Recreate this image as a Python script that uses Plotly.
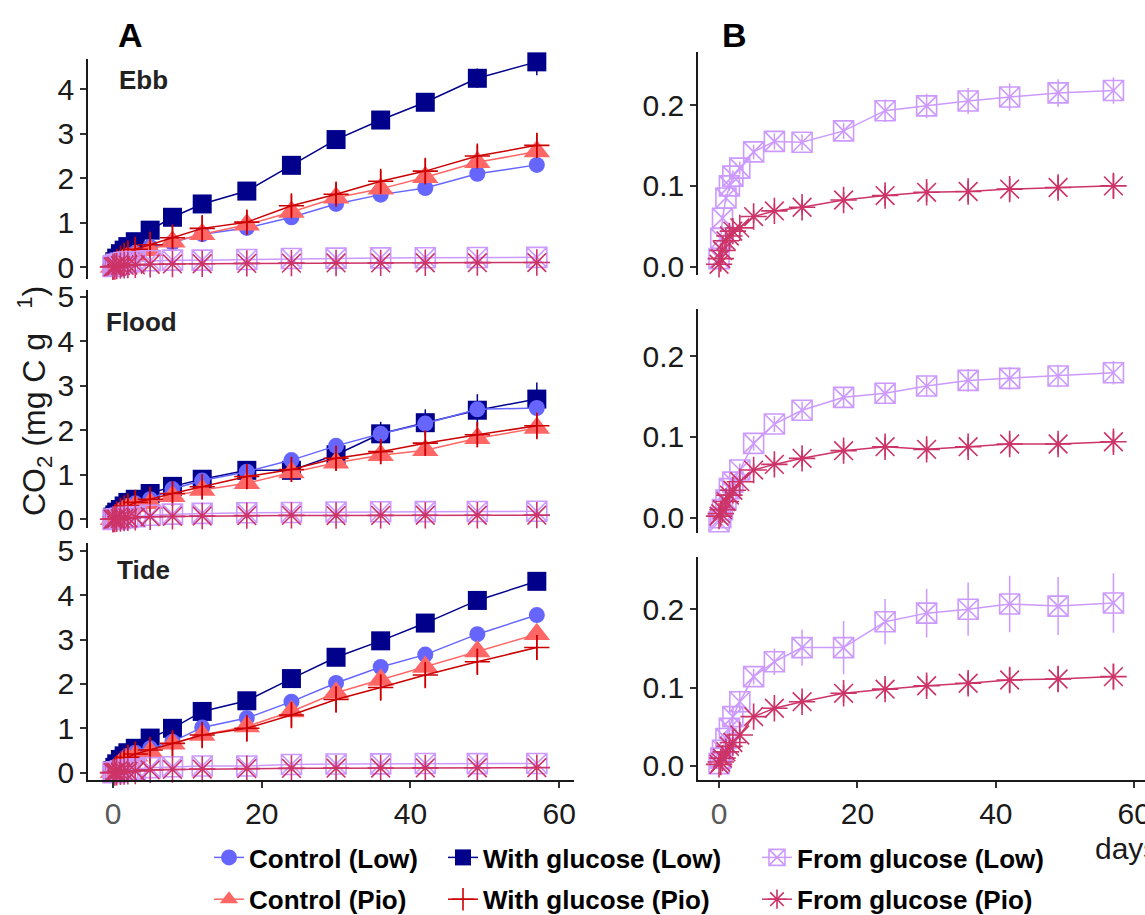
import plotly.graph_objects as go

W, H = 1145, 915

# ---------------- data ----------------
days = [0, 0.25, 0.5, 1, 1.5, 2, 3, 5, 8, 12, 18, 24, 30, 36, 42, 49, 57]

# Ebb
ebb_ctrl_low = [0.02, 0.06, 0.1, 0.16, 0.21, 0.26, 0.32, 0.45, 0.55, 0.74, 0.88, 1.12, 1.42, 1.63, 1.78, 2.1, 2.3]
ebb_ctrl_pio = [0.0, 0.05, 0.09, 0.14, 0.18, 0.22, 0.27, 0.38, 0.57, 0.74, 0.95, 1.24, 1.56, 1.76, 2.02, 2.36, 2.6]
ebb_wg_low = [0.05, 0.12, 0.2, 0.3, 0.38, 0.46, 0.57, 0.83, 1.12, 1.42, 1.71, 2.29, 2.87, 3.31, 3.71, 4.25, 4.62]
ebb_wg_pio = [0.0, 0.06, 0.12, 0.2, 0.26, 0.32, 0.4, 0.5, 0.66, 0.87, 1.01, 1.38, 1.64, 1.93, 2.16, 2.5, 2.74]
ebb_fg_low = [0.01, 0.035, 0.06, 0.085, 0.1, 0.112, 0.122, 0.142, 0.155, 0.154, 0.168, 0.193, 0.199, 0.205, 0.21, 0.215, 0.218]
ebb_fg_pio = [0.003, 0.01, 0.02, 0.032, 0.038, 0.044, 0.048, 0.062, 0.069, 0.0735, 0.0825, 0.088, 0.092, 0.093, 0.096, 0.098, 0.1]

ebb_ctrl_low_se = [0.01, 0.02, 0.02, 0.03, 0.03, 0.03, 0.04, 0.04, 0.05, 0.05, 0.06, 0.06, 0.07, 0.07, 0.08, 0.09, 0.1]
ebb_ctrl_pio_se = [0.01, 0.02, 0.03, 0.04, 0.05, 0.06, 0.07, 0.08, 0.09, 0.1, 0.1, 0.11, 0.11, 0.12, 0.12, 0.13, 0.13]
ebb_wg_low_se = [0.01, 0.02, 0.03, 0.04, 0.05, 0.05, 0.06, 0.07, 0.08, 0.08, 0.09, 0.1, 0.1, 0.1, 0.12, 0.22, 0.3]
ebb_wg_pio_se = [0.05, 0.1, 0.15, 0.2, 0.22, 0.25, 0.27, 0.3, 0.3, 0.3, 0.27, 0.25, 0.25, 0.25, 0.3, 0.25, 0.28]
ebb_fg_low_se = [0.002, 0.003, 0.004, 0.005, 0.006, 0.007, 0.008, 0.009, 0.01, 0.01, 0.01, 0.014, 0.015, 0.016, 0.017, 0.017, 0.0165]
ebb_fg_pio_se = [0.001, 0.002, 0.003, 0.004, 0.005, 0.006, 0.007, 0.008, 0.009, 0.01, 0.01, 0.012, 0.012, 0.013, 0.013, 0.014, 0.015]

# Flood
flood_ctrl_low = [0.03, 0.08, 0.12, 0.2, 0.25, 0.3, 0.36, 0.45, 0.68, 0.87, 1.07, 1.33, 1.65, 1.92, 2.15, 2.47, 2.5]
flood_ctrl_pio = [0.0, 0.04, 0.08, 0.15, 0.2, 0.25, 0.3, 0.36, 0.52, 0.66, 0.81, 1.05, 1.27, 1.44, 1.55, 1.82, 2.05]
flood_wg_low = [0.05, 0.1, 0.16, 0.22, 0.3, 0.38, 0.45, 0.58, 0.74, 0.9, 1.1, 1.1, 1.45, 1.92, 2.17, 2.45, 2.7]
flood_wg_pio = [0.0, 0.06, 0.12, 0.2, 0.25, 0.3, 0.38, 0.45, 0.58, 0.73, 0.96, 1.12, 1.37, 1.52, 1.71, 1.9, 2.1]
flood_fg_low = [-0.005, 0.0, 0.01, 0.022, 0.036, 0.044, 0.059, 0.092, 0.116, 0.133, 0.149, 0.154, 0.163, 0.17, 0.1725, 0.1754, 0.1795]
flood_fg_pio = [0.002, 0.005, 0.01, 0.02, 0.028, 0.034, 0.0446, 0.059, 0.066, 0.0735, 0.083, 0.0879, 0.0846, 0.0879, 0.0912, 0.0912, 0.094]

flood_ctrl_low_se = [0.01, 0.02, 0.02, 0.03, 0.03, 0.04, 0.04, 0.05, 0.06, 0.07, 0.08, 0.09, 0.1, 0.1, 0.11, 0.12, 0.12]
flood_ctrl_pio_se = [0.01, 0.02, 0.03, 0.04, 0.05, 0.06, 0.07, 0.08, 0.09, 0.1, 0.1, 0.11, 0.12, 0.12, 0.13, 0.13, 0.14]
flood_wg_low_se = [0.02, 0.03, 0.04, 0.05, 0.06, 0.07, 0.08, 0.1, 0.12, 0.14, 0.15, 0.18, 0.22, 0.27, 0.3, 0.36, 0.37]
flood_wg_pio_se = [0.05, 0.1, 0.15, 0.2, 0.22, 0.25, 0.27, 0.28, 0.28, 0.28, 0.28, 0.28, 0.28, 0.28, 0.28, 0.28, 0.3]
flood_fg_low_se = [0.002, 0.003, 0.004, 0.005, 0.006, 0.007, 0.008, 0.009, 0.01, 0.011, 0.012, 0.013, 0.013, 0.014, 0.014, 0.014, 0.0145]
flood_fg_pio_se = [0.001, 0.002, 0.003, 0.004, 0.005, 0.006, 0.007, 0.008, 0.009, 0.01, 0.011, 0.012, 0.012, 0.012, 0.012, 0.012, 0.013]

# Tide
tide_ctrl_low = [0.03, 0.08, 0.15, 0.22, 0.3, 0.38, 0.45, 0.55, 0.7, 1.02, 1.23, 1.6, 2.02, 2.38, 2.66, 3.12, 3.55]
tide_ctrl_pio = [0.01, 0.06, 0.12, 0.2, 0.25, 0.3, 0.38, 0.47, 0.65, 0.85, 1.04, 1.38, 1.8, 2.09, 2.38, 2.73, 3.12]
tide_wg_low = [0.05, 0.12, 0.2, 0.3, 0.38, 0.45, 0.55, 0.78, 1.0, 1.38, 1.62, 2.12, 2.6, 2.97, 3.37, 3.88, 4.31]
tide_wg_pio = [0.0, 0.06, 0.12, 0.2, 0.28, 0.35, 0.42, 0.51, 0.66, 0.85, 1.0, 1.3, 1.65, 1.92, 2.2, 2.5, 2.82]
tide_fg_low = [0.003, 0.01, 0.02, 0.035, 0.048, 0.063, 0.082, 0.114, 0.133, 0.151, 0.151, 0.184, 0.195, 0.2, 0.2066, 0.204, 0.208]
tide_fg_pio = [0.002, 0.005, 0.01, 0.018, 0.025, 0.03, 0.0395, 0.063, 0.0736, 0.082, 0.0927, 0.098, 0.1024, 0.1055, 0.1097, 0.111, 0.114]

tide_ctrl_low_se = [0.01, 0.02, 0.02, 0.03, 0.03, 0.04, 0.04, 0.05, 0.06, 0.07, 0.08, 0.09, 0.1, 0.1, 0.11, 0.12, 0.12]
tide_ctrl_pio_se = [0.01, 0.02, 0.03, 0.04, 0.05, 0.06, 0.07, 0.08, 0.09, 0.1, 0.1, 0.11, 0.12, 0.12, 0.13, 0.13, 0.14]
tide_wg_low_se = [0.01, 0.02, 0.03, 0.04, 0.04, 0.05, 0.05, 0.06, 0.06, 0.07, 0.07, 0.08, 0.08, 0.08, 0.09, 0.09, 0.1]
tide_wg_pio_se = [0.05, 0.1, 0.15, 0.2, 0.22, 0.25, 0.27, 0.3, 0.3, 0.3, 0.3, 0.3, 0.3, 0.3, 0.3, 0.3, 0.28]
tide_fg_low_se = [0.002, 0.004, 0.006, 0.008, 0.01, 0.012, 0.014, 0.01, 0.017, 0.023, 0.034, 0.029, 0.031, 0.034, 0.036, 0.037, 0.038]
tide_fg_pio_se = [0.001, 0.002, 0.003, 0.004, 0.005, 0.006, 0.007, 0.008, 0.009, 0.01, 0.011, 0.012, 0.013, 0.014, 0.015, 0.016, 0.016]

series_keys = ["wg_low", "ctrl_low", "ctrl_pio", "wg_pio", "fg_low", "fg_pio"]  # drawing order
series_names = {
    "ctrl_low": "Control (Low)", "ctrl_pio": "Control (Pio)",
    "wg_low": "With glucose (Low)", "wg_pio": "With glucose (Pio)",
    "fg_low": "From glucose (Low)", "fg_pio": "From glucose (Pio)",
}
site_labels = ["Ebb", "Flood", "Tide"]

site_data = {
    "Ebb": {"ctrl_low": (ebb_ctrl_low, ebb_ctrl_low_se), "ctrl_pio": (ebb_ctrl_pio, ebb_ctrl_pio_se),
            "wg_low": (ebb_wg_low, ebb_wg_low_se), "wg_pio": (ebb_wg_pio, ebb_wg_pio_se),
            "fg_low": (ebb_fg_low, ebb_fg_low_se), "fg_pio": (ebb_fg_pio, ebb_fg_pio_se)},
    "Flood": {"ctrl_low": (flood_ctrl_low, flood_ctrl_low_se), "ctrl_pio": (flood_ctrl_pio, flood_ctrl_pio_se),
              "wg_low": (flood_wg_low, flood_wg_low_se), "wg_pio": (flood_wg_pio, flood_wg_pio_se),
              "fg_low": (flood_fg_low, flood_fg_low_se), "fg_pio": (flood_fg_pio, flood_fg_pio_se)},
    "Tide": {"ctrl_low": (tide_ctrl_low, tide_ctrl_low_se), "ctrl_pio": (tide_ctrl_pio, tide_ctrl_pio_se),
             "wg_low": (tide_wg_low, tide_wg_low_se), "wg_pio": (tide_wg_pio, tide_wg_pio_se),
             "fg_low": (tide_fg_low, tide_fg_low_se), "fg_pio": (tide_fg_pio, tide_fg_pio_se)},
}

# ---------------- styles ----------------
styles = {
    "ctrl_low": dict(color="#6666FF", symbol="circle", size=16, mlw=0, legend="legend"),
    "ctrl_pio": dict(color="#FF6666", symbol="triangle-up", size=23, mlw=0, legend="legend"),
    "wg_low": dict(color="#00008B", symbol="square", size=19, mlw=0, legend="legend2"),
    "wg_pio": dict(color="#CC0000", symbol="cross-thin-open", size=18, mlw=1.6, legend="legend2"),
    "fg_low": dict(color="#CC99FF", symbol="square-x-open", size=20, mlw=1.6, legend="legend3"),
    "fg_pio": dict(color="#CC3366", symbol="asterisk-open", size=22, mlw=1.6, legend="legend3"),
}

def px_x(a, b):
    return [a / W, b / W]

def px_y(top, bottom):
    return [1 - bottom / H, 1 - top / H]

# panel geometry (pixels) and ranges
A_x = dict(dom=px_x(88, 574), rng=[-3.36, 62.0])
B_x = dict(dom=px_x(698, 1145), rng=[-3.04, 61.56])
panels = [
    # (col, site, y-domain px, y-range, tickvals)
    ("A", "Ebb", (59.2, 279), [-0.27, 4.68], [0, 1, 2, 3, 4, 5]),
    ("A", "Flood", (290, 528), [-0.195, 5.15], [0, 1, 2, 3, 4, 5]),
    ("A", "Tide", (542.7, 780), [-0.164, 5.18], [0, 1, 2, 3, 4, 5]),
    ("B", "Ebb", (51.7, 275), [-0.0103, 0.266], [0, 0.1, 0.2]),
    ("B", "Flood", (309.3, 533.3), [-0.0193, 0.258], [0, 0.1, 0.2]),
    ("B", "Tide", (556.7, 780), [-0.0179, 0.267], [0, 0.1, 0.2]),
]

fig = go.Figure()
TICKFONT = dict(family="Liberation Sans, Arial, sans-serif", size=30, color="#1A1A1A")
layout = dict(
    width=W, height=H, autosize=False,
    margin=dict(l=0, r=0, t=0, b=0, pad=0, autoexpand=False),
    paper_bgcolor="white", plot_bgcolor="white",
    font=dict(family="Liberation Sans, Arial, sans-serif"),
)

legend_seen = set()
for i, (col, site, (ytop, ybot), yrng, yticks) in enumerate(panels):
    n = i + 1
    xid = "x" if n == 1 else f"x{n}"
    yid = "y" if n == 1 else f"y{n}"
    xa = A_x if col == "A" else B_x
    bottom_row = site == "Tide"
    series = site_data[site]
    keys = series_keys if col == "A" else ["fg_low", "fg_pio"]
    for k in keys:
        yv, se = series[k]
        st = styles[k]
        show = k not in legend_seen
        legend_seen.add(k)
        fig.add_trace(go.Scatter(
            x=days, y=yv, mode="lines+markers", name=series_names[k],
            xaxis=xid, yaxis=yid,
            line=dict(color=st["color"], width=1.5),
            marker=dict(symbol=st["symbol"], size=st["size"], color=st["color"],
                        line=dict(color=st["color"], width=st["mlw"])),
            error_y=dict(type="data", array=se, thickness=1.5, width=0, color=st["color"]),
            cliponaxis=False, showlegend=show, legend=st["legend"], legendgroup=k,
        ))
    xkey = "xaxis" if n == 1 else f"xaxis{n}"
    ykey = "yaxis" if n == 1 else f"yaxis{n}"
    xaxis = dict(domain=xa["dom"], range=xa["rng"], anchor=yid, showgrid=False, zeroline=False,
                 automargin=False)
    if bottom_row:
        xaxis.update(showline=True, linecolor="#1A1A1A", linewidth=1.5, ticks="outside", ticklen=6,
                     tickwidth=1.5, tickcolor="#333333",
                     tickvals=[0, 20, 40, 60],
                     ticktext=['<span style="color:#5A5A5A">0</span>', "20", "40", "60"],
                     tickfont=TICKFONT, ticklabeloverflow="allow")
    else:
        xaxis.update(showline=False, showticklabels=False, ticks="")
    layout[xkey] = xaxis
    layout[ykey] = dict(domain=px_y(ytop, ybot), range=yrng, anchor=xid, showgrid=False, zeroline=False,
                        showline=True, linecolor="#1A1A1A", linewidth=1.5, ticks="outside", ticklen=6,
                        tickwidth=1.5, tickcolor="#333333", tickvals=yticks, automargin=False,
                        tickformat=".1f" if col == "B" else "d", tickfont=TICKFONT)

legend_common = dict(orientation="v", xanchor="left", yanchor="top", bgcolor="rgba(0,0,0,0)",
                     font=dict(family="Liberation Sans, Arial, sans-serif", size=26, color="#000000", weight="bold"),
                     tracegroupgap=5, itemsizing="trace")
layout["legend"] = dict(legend_common, x=209 / W, y=1 - 834 / H)
layout["legend2"] = dict(legend_common, x=443 / W, y=1 - 834 / H)
layout["legend3"] = dict(legend_common, x=757 / W, y=1 - 834 / H)

annotations = [
    dict(text="<b>A</b>", x=130 / W, y=1 - 35 / H, xref="paper", yref="paper", showarrow=False,
         xanchor="center", yanchor="middle", font=dict(size=34, color="black")),
    dict(text="<b>B</b>", x=734 / W, y=1 - 35 / H, xref="paper", yref="paper", showarrow=False,
         xanchor="center", yanchor="middle", font=dict(size=34, color="black")),
    dict(text="CO<sub>2</sub> (mg C g  <sup> 1</sup>)", x=35 / W, y=1 - 401 / H, xref="paper", yref="paper",
         xanchor="center", yanchor="middle",
         showarrow=False, textangle=-90, font=dict(size=32, color="#1A1A1A")),
    dict(text="days", x=1093 / W, y=1 - 848 / H, xref="paper", yref="paper", xanchor="left",
         yanchor="middle", showarrow=False, font=dict(size=30, color="#1A1A1A")),
]
site_pos = {"Ebb": (117, 80), "Flood": (104, 322), "Tide": (115, 570)}
for s in site_labels:
    sx, sy = site_pos[s]
    annotations.append(dict(text=f"<b>{s}</b>", x=sx / W, y=1 - sy / H, xref="paper", yref="paper",
                            xanchor="left", yanchor="middle", showarrow=False,
                            font=dict(size=26, color="#222222")))
layout["annotations"] = annotations

fig.update_layout(**layout)
fig.write_html("out.html")
